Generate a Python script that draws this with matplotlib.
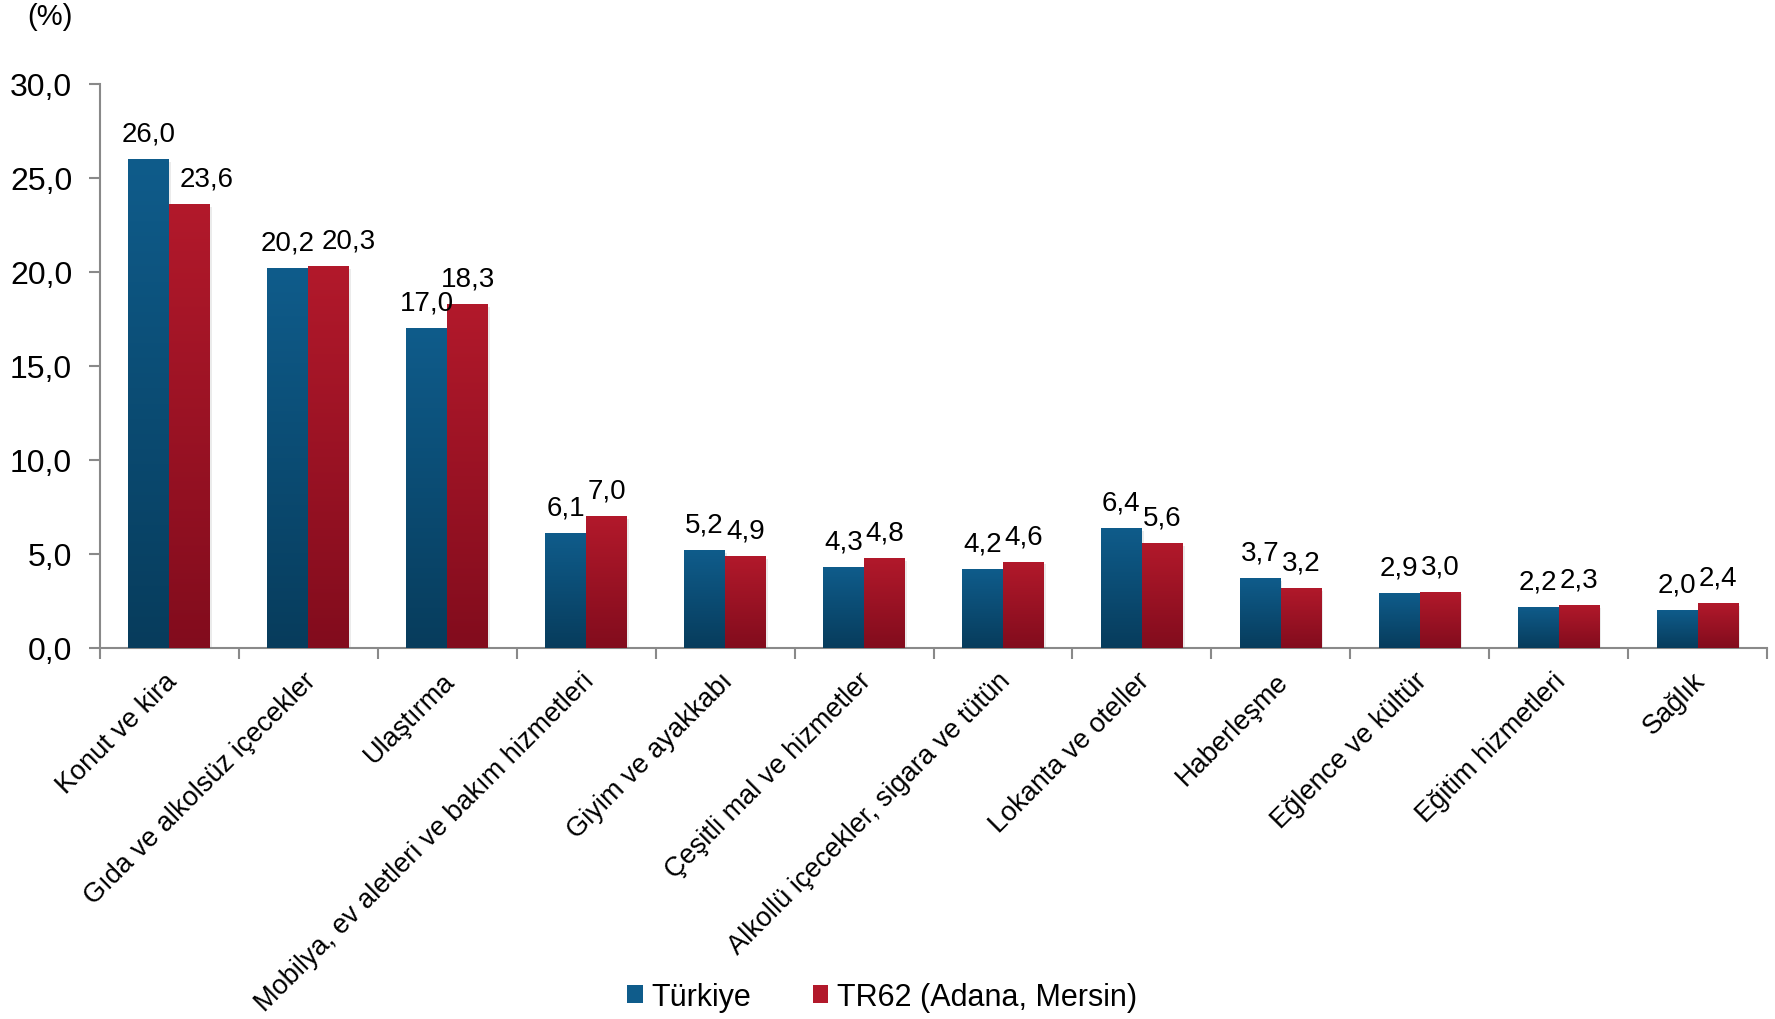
import matplotlib
matplotlib.use("Agg")
import matplotlib.pyplot as plt
import numpy as np
from matplotlib.colors import LinearSegmentedColormap
from matplotlib.patches import Rectangle

plt.rcParams['font.family'] = ['Liberation Sans', 'DejaVu Sans']

categories = ["Konut ve kira", "Gıda ve alkolsüz içecekler", "Ulaştırma",
              "Mobilya, ev aletleri ve bakım hizmetleri", "Giyim ve ayakkabı",
              "Çeşitli mal ve hizmetler", "Alkollü içecekler, sigara ve tütün",
              "Lokanta ve oteller", "Haberleşme", "Eğlence ve kültür",
              "Eğitim hizmetleri", "Sağlık"]
turkiye = [26.0, 20.2, 17.0, 6.1, 5.2, 4.3, 4.2, 6.4, 3.7, 2.9, 2.2, 2.0]
tr62 = [23.6, 20.3, 18.3, 7.0, 4.9, 4.8, 4.6, 5.6, 3.2, 3.0, 2.3, 2.4]
series_names = ["Türkiye", "TR62 (Adana, Mersin)"]
yticks = [0, 5, 10, 15, 20, 25, 30]

# colours: (top, bottom) of the vertical gradient
blue_grad = ("#0F5C8B", "#073C5C")
red_grad = ("#B2192B", "#820C1D")

# some labels were nudged right in the original (series, category): points
label_dx = {(1, 0): 12, (1, 1): 14}

fig = plt.figure(figsize=(17.75, 10.2), dpi=100)
ax = fig.add_axes([100 / 1775, 1 - 649 / 1020, 1667 / 1775, 564 / 1020])

n = len(categories)
x = np.arange(n)
w = 0.295


def grad_bars(xs, vals, colors):
    cmap = LinearSegmentedColormap.from_list("g", [colors[1], colors[0]])
    grad = np.linspace(0, 1, 256).reshape(-1, 1)
    bars = ax.bar(xs, vals, w, color=colors[0], edgecolor="none", zorder=2)
    for b in bars:
        x0, h = b.get_x(), b.get_height()
        # soft shadow on the right
        ax.add_patch(Rectangle((x0 + 0.012, 0), w, h - 0.15, facecolor="#000000",
                               alpha=0.08, edgecolor="none", zorder=1))
        im = ax.imshow(grad, extent=[x0, x0 + w, 0, h], origin="lower",
                       aspect="auto", cmap=cmap, zorder=3)
        im.set_clip_path(b)
    return bars


grad_bars(x - w / 2, turkiye, blue_grad)
grad_bars(x + w / 2, tr62, red_grad)

for s, vals in enumerate([turkiye, tr62]):
    for i, v in enumerate(vals):
        xx = x[i] + (w / 2 if s else -w / 2)
        dx = label_dx.get((s, i), 0)
        ax.annotate(f"{v:.1f}".replace(".", ","), (xx, v), xytext=(dx, 9),
                    textcoords="offset points", ha="center", va="bottom",
                    fontsize=20, zorder=5)

ax.set_xlim(-0.5, n - 0.5)
ax.set_ylim(0, 30)
ax.set_yticks(yticks)
ax.set_yticklabels([f"{t:.1f}".replace(".", ",") for t in yticks], fontsize=23)

ax.set_xticks(np.arange(n + 1) - 0.5)
ax.set_xticklabels([])
# category labels sit a touch left of the group centre
ax.set_xticks(x - 0.04, minor=True)
ax.set_xticklabels(categories, minor=True, rotation=45, ha="right",
                   rotation_mode="anchor", fontsize=19.5)
ax.tick_params(axis="x", which="minor", length=0, pad=14)
ax.tick_params(axis="both", which="major", color="#898989", length=8, width=1.5)
ax.tick_params(axis="y", pad=12)

for sp in ["top", "right"]:
    ax.spines[sp].set_visible(False)
for sp in ["left", "bottom"]:
    ax.spines[sp].set_color("#898989")
    ax.spines[sp].set_linewidth(1.5)

fig.text(50 / 1775, 1 - 17 / 1020, "(%)", fontsize=21, ha="center", va="center")

handles = [Rectangle((0, 0), 1, 1, facecolor=blue_grad[0]),
           Rectangle((0, 0), 1, 1, facecolor=red_grad[0])]
fig.legend(handles, series_names, loc="center", bbox_to_anchor=(0.497, 1 - 998 / 1020),
           ncol=2, frameon=False, fontsize=22, handlelength=0.5, handleheight=0.5,
           handletextpad=0.3, columnspacing=2.0)

fig.savefig("out.png", dpi=100)
